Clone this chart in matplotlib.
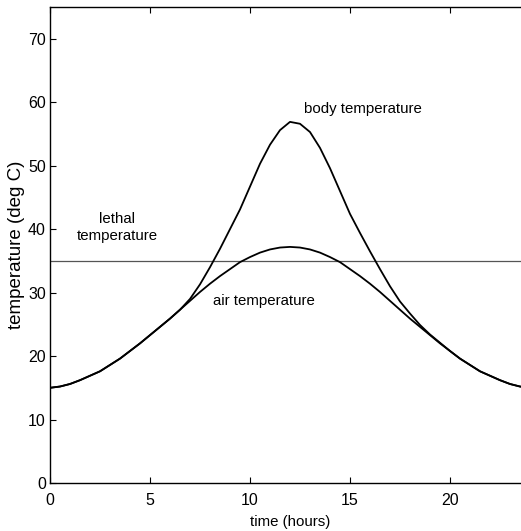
import matplotlib
matplotlib.use("Agg")
import matplotlib.pyplot as plt

# values, every half hour from 0 to 24 h
hours = [i * 0.5 for i in range(49)]
air_temp = [15.0, 15.2, 15.6, 16.2, 16.9, 17.6, 18.6, 19.6, 20.8, 22.0, 23.3, 24.6,
            25.9, 27.3, 28.7, 30.1, 31.4, 32.6, 33.7, 34.8, 35.6, 36.3, 36.8, 37.1,
            37.2,
            37.1, 36.8, 36.3, 35.6, 34.8, 33.7, 32.6, 31.4, 30.1, 28.7, 27.3, 25.9,
            24.6, 23.3, 22.0, 20.8, 19.6, 18.6, 17.6, 16.9, 16.2, 15.6, 15.2, 15.0]
body_temp = [15.0, 15.2, 15.6, 16.2, 16.9, 17.6, 18.6, 19.6, 20.8, 22.0, 23.3, 24.6,
             25.9, 27.3, 29.0, 31.3, 34.0, 36.9, 40.0, 43.1, 46.7, 50.3, 53.3, 55.6,
             56.9,
             56.6, 55.3, 52.8, 49.6, 46.0, 42.4, 39.4, 36.5, 33.7, 31.0, 28.6, 26.7,
             24.9, 23.4, 22.1, 20.8, 19.6, 18.6, 17.6, 16.9, 16.2, 15.6, 15.2, 15.0]
lethal = 35
xticks = [0, 5, 10, 15, 20]
yticks = [0, 10, 20, 30, 40, 50, 60, 70]

plt.rcParams.update({"font.family": ["Liberation Sans", "DejaVu Sans"], "font.size": 11.5})

fig = plt.figure(figsize=(5.21, 5.31), dpi=100)
W, H = 521, 531
ax = fig.add_axes([50 / W, 48 / H, 480 / W, 476 / H])

ax.axhline(lethal, color="#555555", lw=0.9)
ax.plot(hours, air_temp, color="black", lw=1.3)
ax.plot(hours, body_temp, color="black", lw=1.3)

ax.text(15.65, 58.9, "body temperature", ha="center", va="center", fontsize=10.8)
ax.text(10.7, 28.6, "air temperature", ha="center", va="center", fontsize=10.8)
ax.text(3.35, 40.3, "lethal\ntemperature", ha="center", va="center", linespacing=1.3, fontsize=10.8)

ax.set_xlim(0, 24); ax.set_ylim(0, 75)
ax.set_xticks(xticks); ax.set_yticks(yticks)
ax.tick_params(direction="in", length=4, top=True, right=True, width=0.8)
ax.tick_params(axis="x", pad=7)
ax.tick_params(axis="y", pad=3)
ax.set_xlabel("time (hours)", labelpad=5, fontsize=10.8)
ax.set_ylabel("temperature (deg C)", labelpad=2, fontsize=13.5)
for s in ax.spines.values():
    s.set_linewidth(1.0)

fig.savefig("out.png", dpi=100)
